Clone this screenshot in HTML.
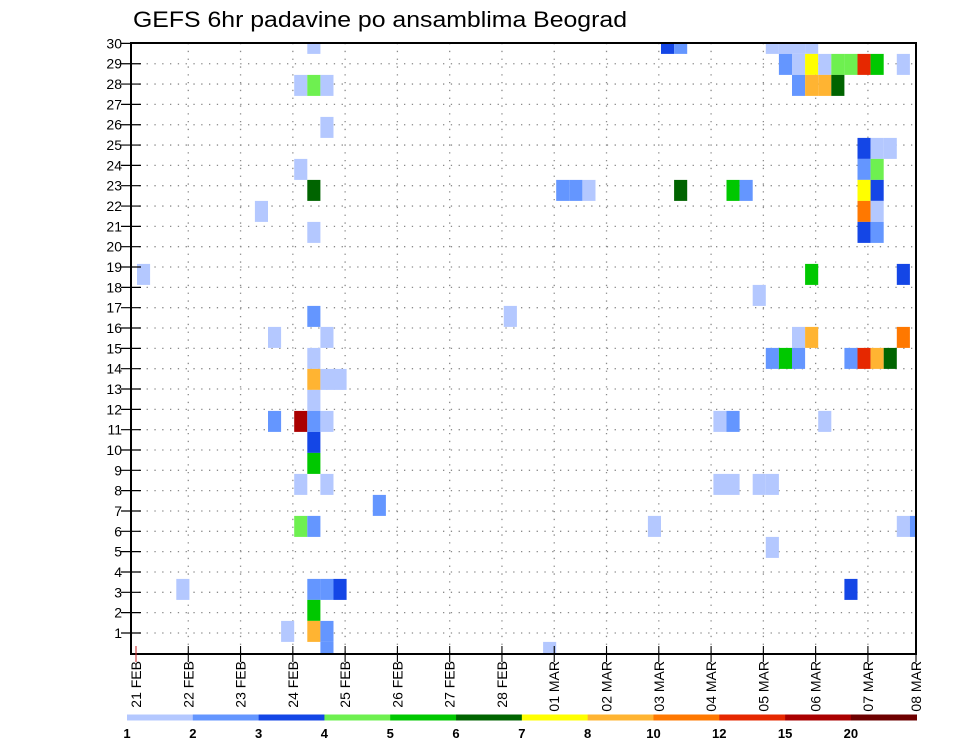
<!DOCTYPE html>
<html><head><meta charset="utf-8"><style>
html,body{margin:0;padding:0;background:#fff;}
svg{display:block;font-family:"Liberation Sans",sans-serif;}
</style></head><body>
<svg id="chart" width="960" height="742" viewBox="0 0 960 742" xmlns="http://www.w3.org/2000/svg">
<text x="133" y="27" font-size="22" textLength="494" lengthAdjust="spacingAndGlyphs" fill="#000">GEFS 6hr padavine po ansamblima Beograd</text>
<g id="grid"></g>
<g id="cells"></g>
<g id="axes"></g>
<g id="legend"></g>
</svg>
<script>
// ---- data ----
const dayLabels = ["21 FEB","22 FEB","23 FEB","24 FEB","25 FEB","26 FEB","27 FEB","28 FEB","01 MAR","02 MAR","03 MAR","04 MAR","05 MAR","06 MAR","07 MAR","08 MAR"];
const memberTicks = [1,2,3,4,5,6,7,8,9,10,11,12,13,14,15,16,17,18,19,20,21,22,23,24,25,26,27,28,29,30];
const binEdges = [1,2,3,4,5,6,7,8,10,12,15,20];
const binColors = ["#b4c8ff","#6496ff","#1446e6","#6ef050","#00c800","#006400","#ffff00","#ffb432","#ff7800","#e62800","#aa0000","#6e0000"];
// cell time steps (6-hourly index from 21 FEB 00z), member, precipitation (mm)
const cellTime   = [13,12,13,14,14,12,13,9,13,0,13,10,14,13,13,14,15,13,10,12,13,14,13,13,12,14,18,12,13,13,14,15,3,13,11,13,14,14,31,
  28,32,33,34,41,45,46,47,51,58,50,51,58,48,49,50,54,55,56,57,40,41,48,49,50,51,49,50,51,52,53,54,55,56,58,50,51,52,53,55,56,57,55,56,55,56,55,56,55,56,44,45,52,44,45,47,48,39,58,59,48,54];
const cellMember = [30,28,28,28,26,24,23,22,21,19,17,16,16,15,14,14,14,13,12,12,12,12,11,10,9,9,8,7,7,4,4,4,4,3,2,2,2,1,1,
  17,23,23,23,23,23,23,18,19,19,16,16,16,15,15,15,15,15,15,15,30,30,30,30,30,30,29,29,29,29,29,29,29,29,29,28,28,28,28,25,25,25,24,24,23,23,22,22,21,21,12,12,12,9,9,9,9,7,7,7,6,4];
const cellValue  = [1.5,1.5,4.5,1.5,1.5,1.5,6.5,1.5,1.5,1.5,2.5,1.5,1.5,1.5,9,1.5,1.5,1.5,2.5,17,2.5,1.5,3.5,5.5,1.5,1.5,2.5,4.5,2.5,2.5,2.5,3.5,1.5,5.5,1.5,9,2.5,2.5,1.5,
  1.5,2.5,2.5,1.5,6.5,5.5,2.5,1.5,5.5,3.5,1.5,9,11,2.5,5.5,2.5,2.5,13,9,6.5,3.5,2.5,1.5,1.5,1.5,1.5,2.5,1.5,7.5,1.5,4.5,4.5,13,5.5,1.5,2.5,9,9,6.5,3.5,1.5,1.5,2.5,4.5,7.5,3.5,11,1.5,3.5,2.5,1.5,2.5,1.5,1.5,1.5,1.5,1.5,1.5,1.5,2.5,1.5,3.5];

// ---- layout ----
const NS="http://www.w3.org/2000/svg";
const L=131,R=916,T=43,B=654;
const dayX = d => Math.min(136 + d*52.28, R);
const timeX = t => 137 + t*13.1;
const labelY = r => 43.4 + (30-r)*20.33;
const memberY = m => 43.4 + (30-m)*21.0;
function colorFor(v){let idx=0;for(let i=0;i<binEdges.length;i++){if(v>=binEdges[i])idx=i;}return binColors[idx];}
function mk(tag,attrs,parent){const e=document.createElementNS(NS,tag);for(const k in attrs)e.setAttribute(k,attrs[k]);parent.appendChild(e);return e;}

const grid=document.getElementById('grid');
memberTicks.forEach(r=>{ if(r>=30) return;
  const l=mk('line',{x1:L,x2:R,y1:labelY(r),y2:labelY(r),stroke:'#8a8a8a','stroke-width':1.3,'stroke-dasharray':'1.3 6.5'},grid);
  
  
});
dayLabels.forEach((d,i)=>{ if(i===0||i===dayLabels.length-1) return;
  const l=mk('line',{x1:dayX(i),x2:dayX(i),y1:T,y2:B,stroke:'#8a8a8a','stroke-width':1.3,'stroke-dasharray':'1.3 6.5'},grid);
  
  
});

const cells=document.getElementById('cells');
const clip=mk('clipPath',{id:'plotclip'},document.getElementById('chart'));
mk('rect',{x:L,y:T,width:R-L,height:B-T},clip);
cells.setAttribute('clip-path','url(#plotclip)');
for(let i=0;i<cellTime.length;i++){
  const x=timeX(cellTime[i]), y=memberY(cellMember[i])-10.5;
  const c=mk('rect',{x:x.toFixed(2),y:y.toFixed(2),width:13.1,height:21,fill:colorFor(cellValue[i])},cells);
  
  
}

const axes=document.getElementById('axes');
const frame=mk('rect',{x:L,y:T,width:R-L,height:B-T,fill:'none',stroke:'#000','stroke-width':2},axes);


memberTicks.forEach(r=>{
  const y=labelY(r);
  const tk=mk('line',{x1:121,x2:141,y1:y,y2:y,stroke:'#000','stroke-width':1.2},axes);
  
  
  const t=mk('text',{x:122,y:y+5,'font-size':14,'text-anchor':'end',fill:'#000'},axes);
  t.textContent=r;
  
  
});
dayLabels.forEach((d,i)=>{
  const x=dayX(i);
  const tk=mk('line',{x1:x,x2:x,y1:646,y2:662,stroke:i===0?'#c33':'#000','stroke-width':1.1},axes);
  
  
  const t=mk('text',{x:0,y:0,'font-size':14,'text-anchor':'end',fill:'#000',transform:`translate(${x+5},661) rotate(-90)`},axes);
  t.textContent=d;
  
  
});

const leg=document.getElementById('legend');
const segW=(916.7-127)/binColors.length;
binColors.forEach((c,i)=>{
  const r=mk('rect',{x:127+i*segW,y:714.5,width:segW+0.3,height:6,fill:c},leg);
  
  
  const t=mk('text',{x:127+i*segW,y:738,'font-size':13,'font-weight':'bold','text-anchor':'middle',fill:'#000'},leg);
  t.textContent=binEdges[i];
  
  
});
</script>
</body></html>
